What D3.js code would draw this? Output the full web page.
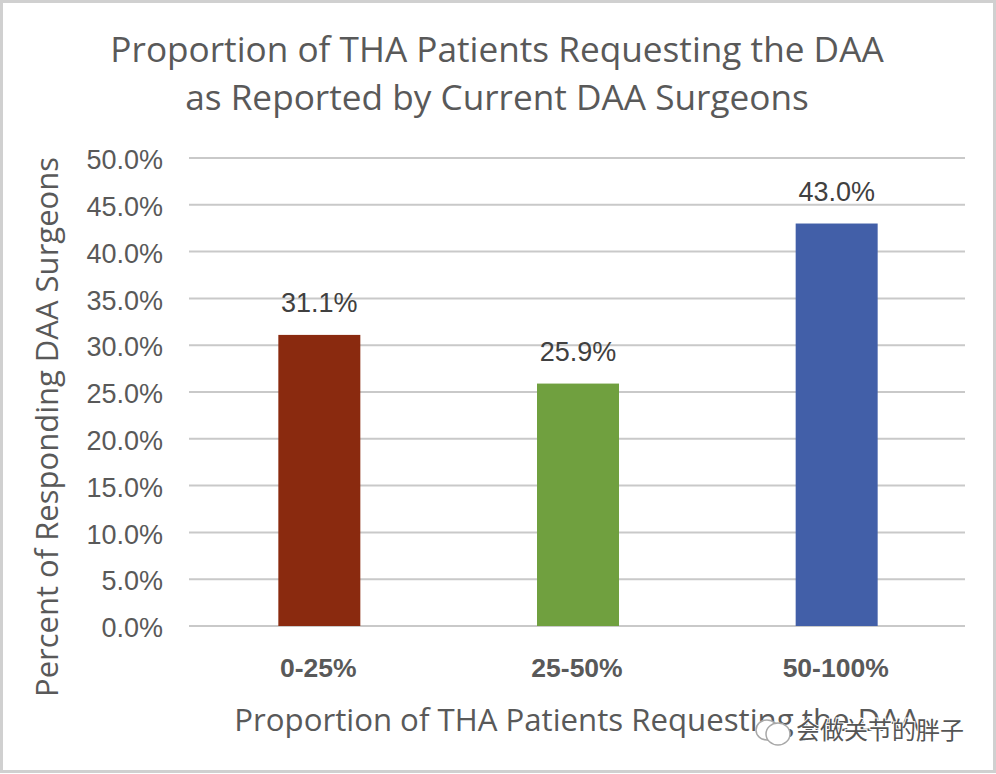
<!DOCTYPE html>
<html>
<head>
<meta charset="utf-8">
<script src="https://d3js.org/d3.v7.min.js"></script>
<style>
  html, body { margin: 0; padding: 0; background: #fff; }
  svg { display: block; }
</style>
</head>
<body>
<svg id="chart" width="996" height="774"></svg>
<script>
// values
const categories = ["0-25%", "25-50%", "50-100%"]
const percents = [31.1, 25.9, 43.0]
const barColors = ["#8a2a0f", "#70a03f", "#425fa8"]
const yTicks = [0, 5, 10, 15, 20, 25, 30, 35, 40, 45, 50]
const titleLines = ["Proportion of THA Patients Requesting the DAA", "as Reported by Current DAA Surgeons"]
const xTitle = "Proportion of THA Patients Requesting the DAA"
const yTitle = "Percent of Responding DAA Surgeons"
const watermark = "会做关节的胖子"

const svg = d3.select("#chart")
const sans = "'Open Sans', 'Noto Sans', sans-serif"
const arial = "'Liberation Sans', Arial, sans-serif"

// outer frame
svg.append("rect")
  .attr("x", 1.5).attr("y", 1.5).attr("width", 993).attr("height", 770)
  .attr("fill", "#fff").attr("stroke", "#d0d0d0").attr("stroke-width", 3)

const x = d3.scaleBand().domain(categories).range([190, 966]).paddingInner(0.683).paddingOuter(0.3415)
const y = d3.scaleLinear().domain([0, 50]).range([626, 158])

// gridlines
svg.append("g")
  .selectAll("line")
  .data(yTicks)
  .join("line")
  .attr("x1", 189).attr("x2", 965)
  .attr("y1", d => y(d)).attr("y2", d => y(d))
  .attr("stroke", "#c9c9c9").attr("stroke-width", 2)

// y axis
const yAxis = svg.append("g")
  .attr("transform", "translate(189,2)")
  .call(d3.axisLeft(y).tickValues(yTicks).tickFormat(d => d.toFixed(1) + "%").tickSize(0).tickPadding(26))
yAxis.select(".domain").remove()
yAxis.selectAll("text")
  .attr("font-family", arial).attr("font-size", 27).attr("fill", "#595959")

// bars
svg.append("g")
  .selectAll("rect")
  .data(percents)
  .join("rect")
  .attr("x", (d, i) => x(categories[i]))
  .attr("y", d => y(d))
  .attr("width", x.bandwidth())
  .attr("height", d => y(0) - y(d))
  .attr("fill", (d, i) => barColors[i])

// value labels
svg.append("g")
  .selectAll("text")
  .data(percents)
  .join("text")
  .attr("x", (d, i) => x(categories[i]) + x.bandwidth() / 2)
  .attr("y", d => y(d) - 23)
  .attr("text-anchor", "middle")
  .attr("font-family", arial).attr("font-size", 27).attr("fill", "#404040")
  .text(d => d.toFixed(1) + "%")

// x axis
const xAxis = svg.append("g")
  .attr("transform", "translate(-1,626)")
  .call(d3.axisBottom(x).tickSize(0).tickPadding(32))
xAxis.select(".domain").remove()
xAxis.selectAll("text")
  .attr("font-family", arial).attr("font-size", 26.5).attr("font-weight", "bold").attr("fill", "#595959")

// titles
svg.append("g")
  .selectAll("text")
  .data(titleLines)
  .join("text")
  .attr("x", 497)
  .attr("y", (d, i) => 62 + i * 48)
  .attr("text-anchor", "middle")
  .attr("font-family", sans).attr("font-size", 35.2).attr("fill", "#595959")
  .text(d => d)

svg.append("text")
  .attr("x", 577).attr("y", 731)
  .attr("text-anchor", "middle")
  .attr("font-family", sans).attr("font-size", 31.2).attr("fill", "#595959")
  .text(xTitle)

svg.append("text")
  .attr("transform", "translate(58,427) rotate(-90)")
  .attr("text-anchor", "middle")
  .attr("font-family", sans).attr("font-size", 31).attr("fill", "#595959")
  .text(yTitle)

// watermark
const wm = svg.append("g").attr("transform", "translate(773,733)")
wm.append("ellipse").attr("rx", 11).attr("ry", 10).attr("cx", -6).attr("cy", -3).attr("fill", "#fff").attr("stroke", "#a8a8a8").attr("stroke-width", 1.5)
wm.append("ellipse").attr("rx", 12).attr("ry", 11).attr("cx", 5).attr("cy", 1).attr("fill", "#fff").attr("stroke", "#a8a8a8").attr("stroke-width", 1.5)
svg.append("text")
  .attr("x", 796).attr("y", 739)
  .attr("font-family", "'Noto Sans CJK SC', sans-serif").attr("font-size", 24).attr("fill", "#555")
  .attr("stroke", "#fff").attr("stroke-width", 2).attr("paint-order", "stroke")
  .text(watermark)
</script>
</body>
</html>
